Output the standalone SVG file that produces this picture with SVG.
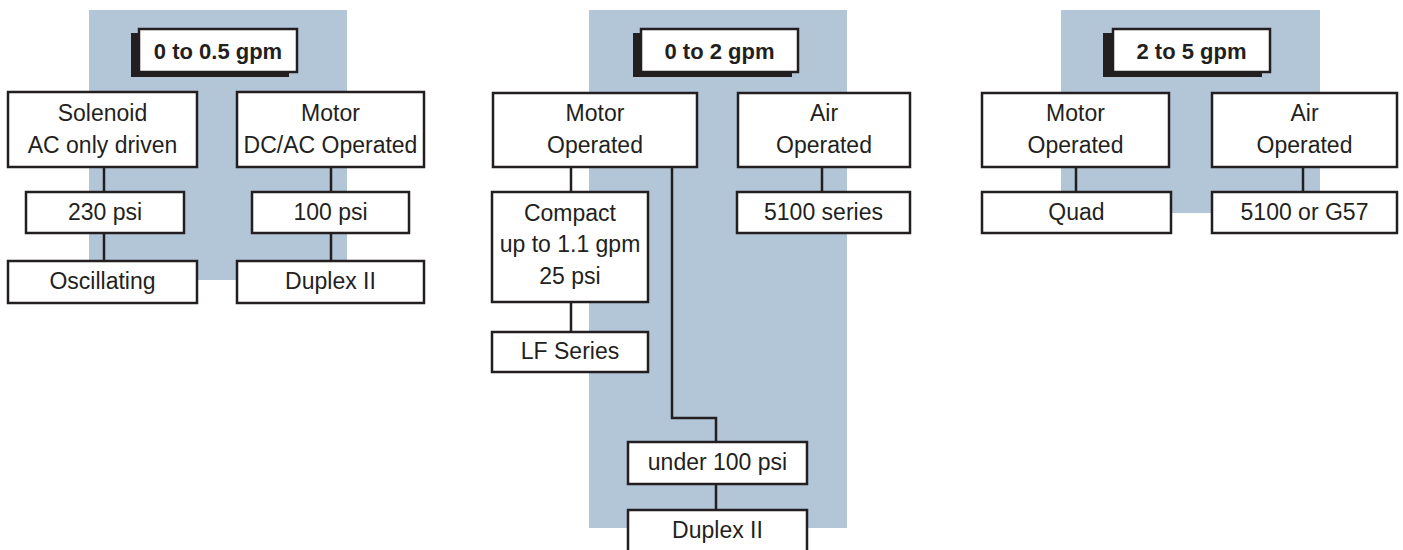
<svg xmlns="http://www.w3.org/2000/svg" width="1403" height="550" viewBox="0 0 1403 550">
<style>
.bg{fill:#b3c6d7}
.box{fill:#fff;stroke:#231f20;stroke-width:2.5}
.sh{fill:#231f20}
.t{font-family:"Liberation Sans",Arial,sans-serif;font-size:23px;fill:#231f20;text-anchor:middle}
.h{font-family:"Liberation Sans",Arial,sans-serif;font-size:22px;font-weight:bold;fill:#231f20;text-anchor:middle}
.c{fill:none;stroke:#231f20;stroke-width:2.5}
</style>
<rect class="bg" x="89" y="10" width="258" height="270"/>
<rect class="bg" x="589" y="10" width="258" height="518"/>
<rect class="bg" x="1061" y="10" width="259" height="203"/>
<g id="connectors">
<path class="c" d="M104 167V192M104 233V261M331 167V192M331 233V261"/>
<path class="c" d="M571 167V192M571 302V332M822 167V192M672 167V418H716V442M716 484V510"/>
<path class="c" d="M1076 167V192M1303 167V192"/>
</g>
<g id="h1"><rect class="sh" x="131" y="33" width="158" height="44"/><rect class="box" x="139" y="29" width="158" height="43"/><text class="h" x="218" y="58.5">0 to 0.5 gpm</text></g>
<g id="solenoid"><rect class="box" x="8" y="92" width="189" height="75"/><text class="t" x="102.5" y="121">Solenoid</text><text class="t" x="102.5" y="153">AC only driven</text></g>
<g id="motor1"><rect class="box" x="237" y="92" width="187" height="75"/><text class="t" x="330.5" y="121">Motor</text><text class="t" x="330.5" y="153">DC/AC Operated</text></g>
<g id="p230"><rect class="box" x="26" y="192" width="158" height="41"/><text class="t" x="105" y="220">230 psi</text></g>
<g id="p100"><rect class="box" x="252" y="192" width="157" height="41"/><text class="t" x="330.5" y="220">100 psi</text></g>
<g id="osc"><rect class="box" x="8" y="261" width="189" height="42"/><text class="t" x="102.5" y="289">Oscillating</text></g>
<g id="duplex1"><rect class="box" x="237" y="261" width="187" height="42"/><text class="t" x="330.5" y="289">Duplex II</text></g>

<g id="h2"><rect class="sh" x="633" y="33" width="159" height="44"/><rect class="box" x="641" y="29" width="157" height="43"/><text class="h" x="719.5" y="58.5">0 to 2 gpm</text></g>
<g id="motor2"><rect class="box" x="493" y="93" width="204" height="74"/><text class="t" x="595" y="121">Motor</text><text class="t" x="595" y="153">Operated</text></g>
<g id="air2"><rect class="box" x="738" y="93" width="172" height="74"/><text class="t" x="824" y="121">Air</text><text class="t" x="824" y="153">Operated</text></g>
<g id="s5100"><rect class="box" x="737" y="192" width="173" height="41"/><text class="t" x="823.5" y="220">5100 series</text></g>
<g id="compact"><rect class="box" x="492" y="192" width="156" height="110"/><text class="t" x="570" y="221">Compact</text><text class="t" x="570" y="252">up to 1.1 gpm</text><text class="t" x="570" y="284">25 psi</text></g>
<g id="lf"><rect class="box" x="492" y="332" width="156" height="40"/><text class="t" x="570" y="359">LF Series</text></g>
<g id="under100"><rect class="box" x="628" y="442" width="179" height="42"/><text class="t" x="717.5" y="470">under 100 psi</text></g>
<g id="duplex2"><rect class="box" x="628" y="510" width="179" height="45"/><text class="t" x="717.5" y="538">Duplex II</text></g>

<g id="h3"><rect class="sh" x="1103" y="33" width="159" height="44"/><rect class="box" x="1113" y="29" width="157" height="43"/><text class="h" x="1191.5" y="58.5">2 to 5 gpm</text></g>
<g id="motor3"><rect class="box" x="982" y="93" width="187" height="74"/><text class="t" x="1075.5" y="121">Motor</text><text class="t" x="1075.5" y="153">Operated</text></g>
<g id="air3"><rect class="box" x="1212" y="93" width="185" height="74"/><text class="t" x="1304.5" y="121">Air</text><text class="t" x="1304.5" y="153">Operated</text></g>
<g id="quad"><rect class="box" x="982" y="192" width="189" height="41"/><text class="t" x="1076.5" y="220">Quad</text></g>
<g id="g57"><rect class="box" x="1212" y="192" width="185" height="41"/><text class="t" x="1304.5" y="220">5100 or G57</text></g>
</svg>
